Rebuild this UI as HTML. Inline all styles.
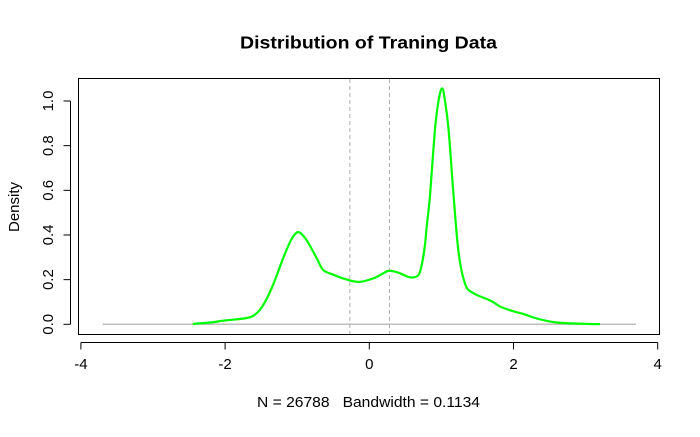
<!DOCTYPE html>
<html><head><meta charset="utf-8"><style>
body{margin:0;background:#fff}
svg text{font-family:"Liberation Sans",Arial,sans-serif;fill:#000;white-space:pre}
</style></head><body>
<svg width="700" height="432" viewBox="0 0 700 432" xmlns="http://www.w3.org/2000/svg">
<rect width="700" height="432" fill="#fff"/>
<text x="240" y="48.5" font-size="17.5" font-weight="bold" textLength="257" lengthAdjust="spacingAndGlyphs">Distribution of Traning Data</text>
<rect x="78.5" y="78.5" width="581" height="256" fill="none" stroke="#000"/>
<g id="xaxis"></g>
<g id="yaxis"></g>
<text x="257" y="407" font-size="15" textLength="223" lengthAdjust="spacingAndGlyphs" xml:space="preserve">N = 26788   Bandwidth = 0.1134</text>
<text transform="translate(19,207) rotate(-90)" font-size="15" text-anchor="middle">Density</text>
<g id="marks"></g>
</svg>
<script>
const xTicks=[-4,-2,0,2,4];
const yTicks=[0,0.2,0.4,0.6,0.8,1.0];
const yTickLabels=["0.0","0.2","0.4","0.6","0.8","1.0"];
const vlines=[-0.27,0.28];
const baseRange=[-3.7,3.7];
const densX=[-2.45,-2.2,-2.03,-1.85,-1.7,-1.6,-1.52,-1.43,-1.33,-1.19,-1.08,-0.99,-0.9,-0.82,-0.72,-0.64,-0.5,-0.31,-0.13,0.06,0.16,0.26,0.35,0.43,0.57,0.68,0.73,0.77,0.8,0.84,0.91,0.96,1.01,1.05,1.1,1.17,1.24,1.33,1.44,1.68,1.82,2.0,2.15,2.3,2.45,2.6,2.8,3.0,3.2];
const densY=[0.002,0.008,0.016,0.022,0.028,0.04,0.064,0.11,0.18,0.30,0.38,0.413,0.39,0.35,0.29,0.243,0.222,0.20,0.19,0.206,0.222,0.239,0.236,0.228,0.21,0.22,0.27,0.35,0.45,0.57,0.87,1.0,1.057,1.0,0.87,0.57,0.318,0.18,0.14,0.106,0.079,0.058,0.045,0.028,0.016,0.008,0.004,0.002,0.0005];
const NS="http://www.w3.org/2000/svg";
const sx=v=>369.3+v*72.1, sy=v=>324.3-v*223.3;
function mk(t,a,p){const e=document.createElementNS(NS,t);for(const k in a)e.setAttribute(k,a[k]);p.appendChild(e);return e;}
const xa=document.getElementById('xaxis'),ya=document.getElementById('yaxis'),m=document.getElementById('marks');
mk('line',{x1:sx(-4),x2:sx(4),y1:342.5,y2:342.5,stroke:'#000'},xa);
xTicks.forEach(v=>{
 const l=mk('line',{x1:sx(v),x2:sx(v),y1:342.5,y2:349.5,stroke:'#000'},xa);
 
 
 const t=mk('text',{x:sx(v),y:369,'font-size':15,'text-anchor':'middle'},xa);t.textContent=v;
 
 
});
mk('line',{x1:70.5,x2:70.5,y1:sy(0),y2:sy(1),stroke:'#000'},ya);
yTicks.forEach((v,i)=>{
 const l=mk('line',{x1:63.5,x2:70.5,y1:sy(v),y2:sy(v),stroke:'#000'},ya);
 
 
 const t=mk('text',{transform:`translate(53,${sy(v)}) rotate(-90)`,'font-size':15,'text-anchor':'middle'},ya);t.textContent=yTickLabels[i];
 
 
});
const b=mk('line',{x1:sx(baseRange[0]),x2:sx(baseRange[1]),y1:sy(0),y2:sy(0),stroke:'#bebebe','stroke-width':1.5},m);


vlines.forEach(v=>{
 const l=mk('line',{x1:sx(v),x2:sx(v),y1:79,y2:334,stroke:'#b0b0b0','stroke-dasharray':'4,3'},m);
 
 
});
const P=densX.map((x,i)=>[sx(x),sy(densY[i])]);
let d='M'+P[0][0].toFixed(1)+','+P[0][1].toFixed(1);
for(let i=0;i<P.length-1;i++){
 const p0=P[Math.max(0,i-1)],p1=P[i],p2=P[i+1],p3=P[Math.min(P.length-1,i+2)];
 const c1=[p1[0]+(p2[0]-p0[0])/6,p1[1]+(p2[1]-p0[1])/6];
 const c2=[p2[0]-(p3[0]-p1[0])/6,p2[1]-(p3[1]-p1[1])/6];
 d+=` C${c1[0].toFixed(1)},${c1[1].toFixed(1)} ${c2[0].toFixed(1)},${c2[1].toFixed(1)} ${p2[0].toFixed(1)},${p2[1].toFixed(1)}`;
}
const p=mk('path',{d:d,fill:'none',stroke:'#00ff00','stroke-width':2.2,'stroke-linejoin':'round'},m);


</script>
</body></html>
